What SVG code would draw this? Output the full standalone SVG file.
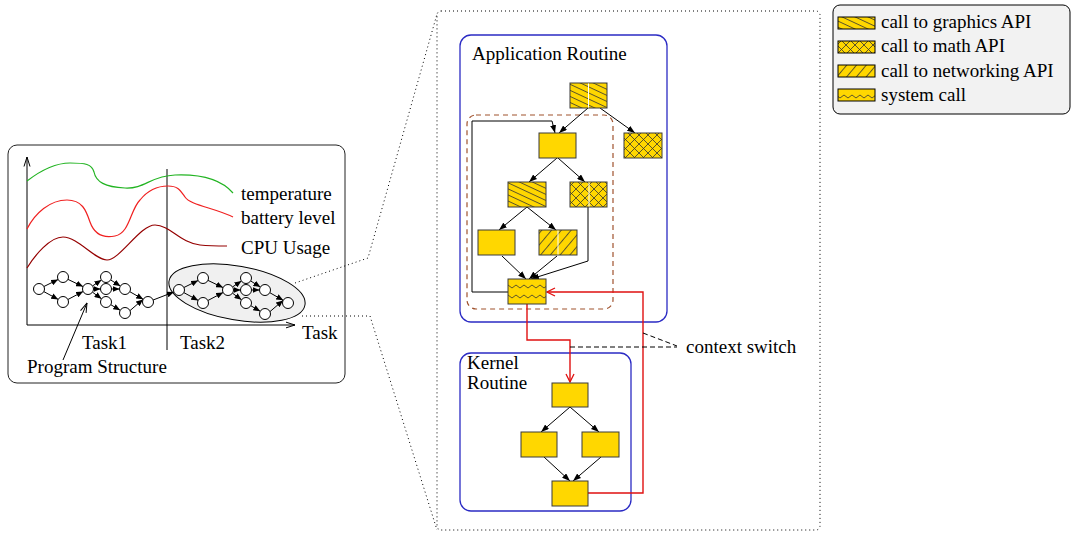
<svg xmlns="http://www.w3.org/2000/svg" width="1072" height="537" viewBox="0 0 1072 537">
<style>
text{font-family:"Liberation Serif","Times New Roman",serif;font-size:19px;fill:#000}
.edge{stroke:#000;stroke-width:1;fill:none}
.sedge{stroke:#000;stroke-width:1;fill:none;marker-end:url(#sa)}
.aedge{stroke:#000;stroke-width:1;fill:none;marker-end:url(#fa)}
.red{stroke:#e01010;stroke-width:1.4;fill:none;marker-end:url(#ra)}
.dot{stroke:#000;stroke-width:1;fill:none;stroke-dasharray:1 3}
.node{stroke:#3a3a3a;stroke-width:1}
.circ{fill:#fff;stroke:#000;stroke-width:1}
.blue{fill:none;stroke:#2b2bc4;stroke-width:1.3}
.wl{stroke:#fff;stroke-width:1}
</style>
<defs>
<marker id="sa" markerUnits="userSpaceOnUse" markerWidth="7" markerHeight="6" refX="7" refY="3" orient="auto"><path d="M0,0 L7,3 L0,6 z" fill="#000"/></marker>
<marker id="fa" markerUnits="userSpaceOnUse" markerWidth="8" markerHeight="6" refX="8" refY="3" orient="auto"><path d="M0,0 L8,3 L0,6 z" fill="#000"/></marker>
<marker id="ra" markerUnits="userSpaceOnUse" markerWidth="10" markerHeight="10" refX="9" refY="5" orient="auto"><path d="M1,1 L9,5 L1,9" fill="none" stroke="#e01010" stroke-width="1.3"/></marker>
<marker id="va" markerUnits="userSpaceOnUse" markerWidth="10" markerHeight="8" refX="9.5" refY="4" orient="auto"><path d="M0,1 L9.5,4 L0,7" fill="none" stroke="#000" stroke-width="1"/></marker>
<pattern id="pg" patternUnits="userSpaceOnUse" width="6" height="5.5" patternTransform="rotate(25)"><rect width="6" height="5.5" fill="#ffd700"/><line x1="0" y1="0.5" x2="6" y2="0.5" stroke="#333" stroke-width="0.8"/></pattern>
<pattern id="pn" patternUnits="userSpaceOnUse" width="7" height="7.5" patternTransform="rotate(-50)"><rect width="7" height="7.5" fill="#ffd700"/><line x1="0" y1="0.5" x2="7" y2="0.5" stroke="#333" stroke-width="0.8"/></pattern>
<pattern id="pm" patternUnits="userSpaceOnUse" width="9" height="9"><rect width="9" height="9" fill="#ffd700"/><path d="M0,0 L9,9 M9,0 L0,9" stroke="#333" stroke-width="0.8"/></pattern>
<pattern id="pz" patternUnits="userSpaceOnUse" width="8" height="10"><rect width="8" height="10" fill="#ffd700"/><polyline points="0,8 4,5 8,8" fill="none" stroke="#333" stroke-width="0.8"/></pattern>
</defs>

<g id="task-panel">
<rect x="8" y="145" width="337" height="238" rx="9" fill="#fff" stroke="#222" stroke-width="1"/>
<line x1="27" y1="325" x2="27" y2="157" class="edge" marker-end="url(#va)"/>
<line x1="27" y1="325" x2="295" y2="325" class="edge" marker-end="url(#va)"/>
<line x1="167" y1="169" x2="167" y2="350" class="edge"/>
<path d="M27,181 C40,171 55,163 70,163 C85,163 92,164 94,172 C96,182 105,187 125,188 C145,189 150,176 175,175 C200,174 220,178 233,193" fill="none" stroke="#22b422" stroke-width="1.2"/>
<path d="M27,229 C35,213 50,200 67,200 C82,200 86,210 90,222 C95,236 105,238 115,236 C130,233 130,210 140,200 C148,190 158,186 168,186 C178,186 180,190 185,197 C190,205 215,208 233,217" fill="none" stroke="#f02020" stroke-width="1.2"/>
<path d="M27,268 C35,255 50,237 63,237 C78,237 95,260 107,260 C120,260 140,225 155,225 C170,225 180,243 200,245 C210,246 220,246 227,246" fill="none" stroke="#950000" stroke-width="1.2"/>
<text x="241" y="200">temperature</text>
<text x="241" y="224">battery level</text>
<text x="241" y="254">CPU Usage</text>
<text x="302" y="339">Task</text>
<text x="82" y="349">Task1</text>
<text x="180" y="349">Task2</text>
<text x="27" y="373">Program Structure</text>
<line x1="63" y1="360" x2="87" y2="303" class="edge" marker-end="url(#va)"/>
<ellipse cx="237" cy="293" rx="69" ry="27" transform="rotate(10 237 293)" fill="#f0f0f0" stroke="#000" stroke-width="1"/>
</g>

<g id="task1-graph">
<g class="sedge">
<line x1="43.9" y1="286.5" x2="58.1" y2="279.5"/>
<line x1="43.8" y1="291.6" x2="58.2" y2="299.4"/>
<line x1="68" y1="279.4" x2="83" y2="286.6"/>
<line x1="67.9" y1="299.5" x2="83.1" y2="291.5"/>
<line x1="92.6" y1="285.9" x2="101.4" y2="280.1"/>
<line x1="93.5" y1="289" x2="100.5" y2="289"/>
<line x1="92.5" y1="292.2" x2="101.5" y2="298.8"/>
<line x1="110.6" y1="279.9" x2="120.4" y2="286.1"/>
<line x1="111.5" y1="289" x2="119.5" y2="289"/>
<line x1="110.8" y1="304.7" x2="120.2" y2="310.3"/>
<line x1="129.8" y1="291.7" x2="143.2" y2="299.3"/>
<line x1="130" y1="310.6" x2="143" y2="299.4"/>
</g>
<g class="circ">
<circle cx="39" cy="289" r="5.5"/><circle cx="63" cy="277" r="5.5"/><circle cx="63" cy="302" r="5.5"/>
<circle cx="88" cy="289" r="5.5"/><circle cx="106" cy="277" r="5.5"/><circle cx="106" cy="289" r="5.5"/>
<circle cx="106" cy="302" r="5.5"/><circle cx="125" cy="289" r="5.5"/><circle cx="125" cy="313" r="5.5"/>
<circle cx="148" cy="302" r="5.5"/>
</g>
</g>
<line x1="153.1" y1="300" x2="173.9" y2="292" class="sedge"/>
<g id="task2-graph" transform="translate(140,1)">
<g class="sedge">
<line x1="43.9" y1="286.5" x2="58.1" y2="279.5"/>
<line x1="43.8" y1="291.6" x2="58.2" y2="299.4"/>
<line x1="68" y1="279.4" x2="83" y2="286.6"/>
<line x1="67.9" y1="299.5" x2="83.1" y2="291.5"/>
<line x1="92.6" y1="285.9" x2="101.4" y2="280.1"/>
<line x1="93.5" y1="289" x2="100.5" y2="289"/>
<line x1="92.5" y1="292.2" x2="101.5" y2="298.8"/>
<line x1="110.6" y1="279.9" x2="120.4" y2="286.1"/>
<line x1="111.5" y1="289" x2="119.5" y2="289"/>
<line x1="110.8" y1="304.7" x2="120.2" y2="310.3"/>
<line x1="129.8" y1="291.7" x2="143.2" y2="299.3"/>
<line x1="130" y1="310.6" x2="143" y2="299.4"/>
</g>
<g class="circ">
<circle cx="39" cy="289" r="5.5"/><circle cx="63" cy="277" r="5.5"/><circle cx="63" cy="302" r="5.5"/>
<circle cx="88" cy="289" r="5.5"/><circle cx="106" cy="277" r="5.5"/><circle cx="106" cy="289" r="5.5"/>
<circle cx="106" cy="302" r="5.5"/><circle cx="125" cy="289" r="5.5"/><circle cx="125" cy="313" r="5.5"/>
<circle cx="148" cy="302" r="5.5"/>
</g>
</g>

<g id="zoom-lines">
<polyline points="295,283 368,258 437,14" class="dot"/>
<polyline points="302,316 370,316 437,530" class="dot"/>
<rect x="437" y="11" width="383" height="519" rx="4" class="dot"/>
</g>

<g id="app-routine">
<rect x="460" y="35" width="207" height="287" rx="11" class="blue"/>
<text x="472" y="60">Application Routine</text>
<rect x="467" y="115" width="146" height="194" rx="9" fill="none" stroke="#a0522d" stroke-width="1.2" stroke-dasharray="5 4"/>
</g>
<g id="kernel-routine">
<rect x="460" y="353" width="171" height="158" rx="11" class="blue"/>
<text x="467" y="369">Kernel</text>
<text x="467" y="389">Routine</text>
</g>

<g id="connectors">
<line x1="588" y1="108" x2="559" y2="133" class="aedge"/>
<line x1="600" y1="108" x2="635" y2="133" class="aedge"/>
<polyline points="508,292 472,292 472,121 552,121 555,133" class="aedge"/>
<line x1="557" y1="158" x2="529" y2="182" class="aedge"/>
<line x1="558" y1="158" x2="585" y2="182" class="aedge"/>
<line x1="527" y1="207" x2="499" y2="230" class="aedge"/>
<line x1="527" y1="207" x2="556" y2="230" class="aedge"/>
<line x1="502" y1="256" x2="526" y2="279" class="aedge"/>
<line x1="557" y1="256" x2="529" y2="279" class="aedge"/>
<polyline points="588,207 588,261 531,279" class="aedge"/>
<line x1="570" y1="407" x2="541" y2="432" class="aedge"/>
<line x1="570" y1="407" x2="599" y2="432" class="aedge"/>
<line x1="544" y1="457" x2="570" y2="481" class="aedge"/>
<line x1="601" y1="457" x2="573" y2="481" class="aedge"/>
<polyline points="527,304 527,340 570,340 570,382" class="red"/>
<polyline points="588,493 643,493 643,292 547,292" class="red"/>
<line x1="570" y1="347" x2="677" y2="347" stroke="#000" stroke-width="1" stroke-dasharray="5 3"/>
<line x1="643" y1="333" x2="677" y2="346" stroke="#000" stroke-width="1" stroke-dasharray="5 3"/>
<text x="686" y="353">context switch</text>
</g>

<g id="g1"><rect x="570" y="83" width="37" height="25" fill="url(#pg)" class="node"/><line x1="588.5" y1="83.5" x2="588.5" y2="107.5" class="wl"/></g>
<g id="m1"><rect x="624" y="133" width="38" height="25" fill="url(#pm)" class="node"/></g>
<g id="p1"><rect x="539" y="133" width="37" height="25" fill="#ffd700" class="node"/></g>
<g id="g2"><rect x="508" y="182" width="38" height="25" fill="url(#pg)" class="node"/></g>
<g id="m2"><rect x="570" y="182" width="37" height="25" fill="url(#pm)" class="node"/><line x1="589" y1="182.5" x2="589" y2="206.5" class="wl"/></g>
<g id="p2"><rect x="478" y="230" width="37" height="25" fill="#ffd700" class="node"/></g>
<g id="n1"><rect x="539" y="230" width="38" height="25" fill="url(#pn)" class="node"/><line x1="558" y1="230.5" x2="558" y2="254.5" class="wl"/></g>
<g id="s1"><rect x="508" y="279" width="38" height="25" fill="url(#pz)" class="node"/></g>
<g id="k1"><rect x="552" y="383" width="36" height="24" fill="#ffd700" class="node"/></g>
<g id="k2"><rect x="521" y="432" width="36" height="25" fill="#ffd700" class="node"/></g>
<g id="k3"><rect x="582" y="432" width="37" height="25" fill="#ffd700" class="node"/></g>
<g id="k4"><rect x="552" y="481" width="36" height="25" fill="#ffd700" class="node"/></g>

<g id="legend">
<rect x="833" y="5" width="237" height="109" rx="7" fill="#f2f2f2" stroke="#000" stroke-width="1"/>
<rect x="838" y="17" width="37" height="12" fill="url(#pg)" stroke="#000"/>
<rect x="838" y="41" width="37" height="12" fill="url(#pm)" stroke="#000"/>
<rect x="838" y="65" width="37" height="12" fill="url(#pn)" stroke="#000"/>
<rect x="838" y="89" width="37" height="12" fill="url(#pz)" stroke="#000"/>
<text x="881" y="28">call to graphics API</text>
<text x="881" y="52">call to math API</text>
<text x="881" y="77">call to networking API</text>
<text x="881" y="101">system call</text>
</g>
</svg>
